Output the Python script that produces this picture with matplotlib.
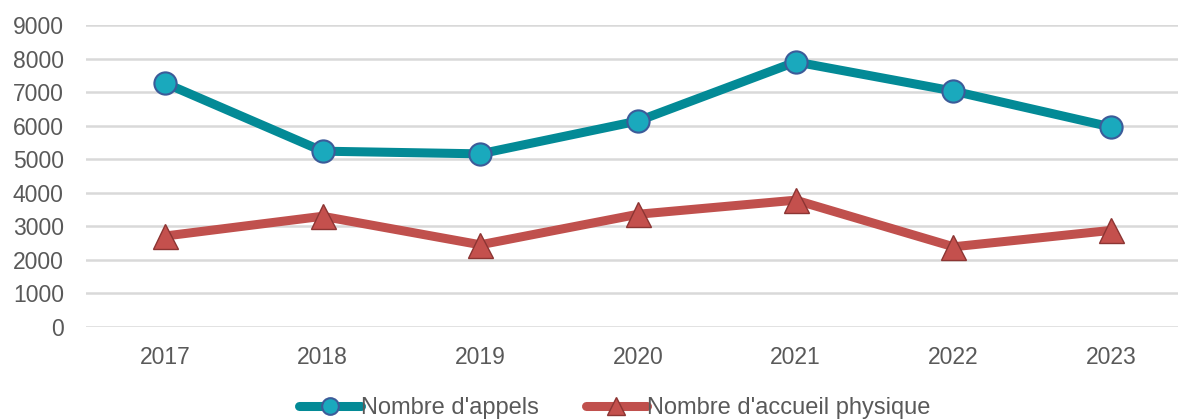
import matplotlib.pyplot as plt

plt.rcParams['font.family'] = ['Liberation Sans', 'DejaVu Sans']

years = ['2017', '2018', '2019', '2020', '2021', '2022', '2023']
appels = [7270, 5240, 5160, 6140, 7900, 7030, 5960]
accueil = [2710, 3300, 2450, 3360, 3780, 2390, 2880]

fig = plt.figure(figsize=(11.78, 4.19), dpi=100)
ax = fig.add_axes([86 / 1178, 92 / 419, 1 - 86 / 1178, (327 - 25) / 419])

x = range(len(years))
ax.plot(x, appels, color='#038A96', lw=6.5, marker='o', ms=16,
        mfc='#1AA9BD', mec='#3C5B99', mew=1.5, label="Nombre d'appels",
        solid_capstyle='round', zorder=3)
ax.plot(x, accueil, color='#C0504D', lw=6.5, marker='^', ms=18,
        mfc='#C4504D', mec='#8C3533', mew=1, label="Nombre d'accueil physique",
        solid_capstyle='round', zorder=3)

ax.set_ylim(0, 9000)
ax.set_yticks(range(0, 9001, 1000))
ax.set_xlim(-0.5, (1178 - 165) / 157.7)
ax.set_xticks(list(x))
ax.set_xticklabels(years)
ax.grid(axis='y', color='#D9D9D9', lw=1.8)
ax.set_axisbelow(True)
for s in ax.spines.values():
    s.set_visible(False)
ax.tick_params(length=0, labelsize=16.5, labelcolor='#595959')
ax.tick_params(axis='x', pad=14)
ax.tick_params(axis='y', pad=16)

fig.legend(loc='center', bbox_to_anchor=(0.522, 11 / 419), ncol=2, frameon=False,
           fontsize=17, labelcolor='#595959', handlelength=2.6, handletextpad=0.0,
           columnspacing=2.0, markerscale=0.75)

fig.savefig('out.png', dpi=100)
